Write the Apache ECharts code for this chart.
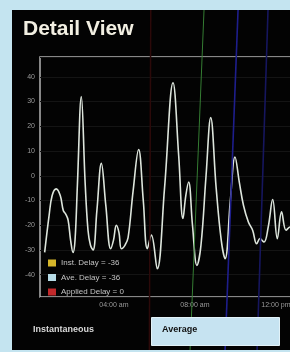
<!DOCTYPE html>
<html>
<head>
<meta charset="utf-8">
<script src="https://cdn.jsdelivr.net/npm/echarts@6/dist/echarts.min.js"></script>
<style>
  html, body { margin: 0; padding: 0; background: #c4e4f0; }
  #panel { position: absolute; left: 12px; top: 10px; width: 278px; height: 340px; background: #030303; }
  #chart { position: absolute; left: 0; top: 0; width: 290px; height: 352px; }
</style>
</head>
<body>
<div id="panel"></div>
<div id="chart"></div>
<script>
// time in hours, delay values
const hours = [0.58, 0.8, 0.95, 1.15, 1.35, 1.5, 1.62, 1.74, 1.86, 1.98, 2.08, 2.2, 2.39, 2.58, 2.72, 2.84, 2.97,
  3.16, 3.38, 3.6, 3.84, 3.98, 4.12, 4.25, 4.37, 4.55, 4.7, 4.95, 5.22, 5.45, 5.65, 5.85, 6.14, 6.5, 6.92,
  7.2, 7.41, 7.55, 7.69, 7.88, 8.1, 8.3, 8.55, 8.78, 9.05, 9.3, 9.49, 9.75, 9.98, 10.2, 10.4, 10.64, 10.85,
  11.05, 11.21, 11.41, 11.62, 11.84, 12.07, 12.28, 12.5, 12.7, 12.95]
const delay = [-31, -16, -8, -5.3, -8, -14, -15.5, -18, -26, -31, -26, -3, 32, -3, -22, -28, -30,
  -14, 5, -12, -29.5, -26, -20, -23, -29.5, -28, -25, -6, 10.6, -10, -29.5, -24, -37.6, -5, 37.6,
  8, -17.3, -8, -2.5, -20, -36.2, -28, 0, 23.5, -5, -26, -33.5, -10, 7.6, -3, -12, -18.7, -22,
  -27.5, -25.4, -26.8, -20.7, -9.6, -25.4, -14.6, -22, -20.7, -24]

const yTicks = [-40, -30, -20, -10, 0, 10, 20, 30, 40]
const xTicks = [4, 8, 12]
const xTickLabels = ['04:00 am', '08:00 am', '12:00 pm']
const legendNames = ['Inst. Delay = -36', 'Ave. Delay = -36', 'Applied Delay = 0']

// cursor lines (slanted in the photo): hour at top and bottom of panel
const cursorTop = [8.45, 10.13, 11.61, 5.82]
const cursorBottom = [7.76, 9.49, 11.07, 5.75]

const chart = echarts.init(document.getElementById('chart'))

const cursorColors = ['#357d33', '#1e1e8c', '#16165e', '#2c0909']
const cursorWidths = [1, 1.6, 1.6, 1.5]
const xMax = 0.35 + 300 / 20.25

chart.setOption({
  animation: false,
  grid: [
    { left: 40, top: 57, width: 300, height: 240, outerBoundsMode: 'none', show: true, borderColor: '#b4b4b4', borderWidth: 1.5 },
    { left: 40, top: 10, width: 300, height: 340, outerBoundsMode: 'none' }
  ],
  xAxis: [
    {
      type: 'value', gridIndex: 0, min: 0.35, max: xMax,
      axisLine: { show: false }, axisTick: { show: false }, splitLine: { show: false },
      axisLabel: {
        customValues: xTicks, color: '#9a9a9a', fontSize: 7, margin: 5,
        fontFamily: 'Liberation Sans',
        formatter: v => xTickLabels[xTicks.indexOf(v)] || ''
      }
    },
    { type: 'value', gridIndex: 1, min: 0.35, max: xMax, show: false }
  ],
  yAxis: [
    {
      type: 'value', gridIndex: 0, min: -49, max: 48, splitNumber: 10,
      axisLine: { show: false }, axisTick: { show: false },
      splitLine: { show: true, lineStyle: { color: '#141414', width: 1 } },
      axisLabel: {
        customValues: yTicks, color: '#9a9a9a', fontSize: 7, margin: 5,
        fontFamily: 'Liberation Sans'
      }
    },
    { type: 'value', gridIndex: 1, min: 0, max: 1, show: false }
  ],
  legend: {
    orient: 'vertical', left: 43, top: 254, itemWidth: 8, itemHeight: 7, itemGap: 6.5,
    icon: 'rect', data: legendNames,
    textStyle: { color: '#c4c4c4', fontSize: 8, fontFamily: 'Liberation Sans' },
    selectedMode: false
  },
  series: [
    {
      type: 'line', xAxisIndex: 1, yAxisIndex: 1, data: [], silent: true, z: 1,
      markLine: {
        symbol: 'none', silent: true, label: { show: false },
        data: cursorTop.map((t, i) => [
          { coord: [t, 1], lineStyle: { color: cursorColors[i], width: cursorWidths[i], type: 'solid' } },
          { coord: [cursorBottom[i], 0] }
        ])
      }
    },
    { name: legendNames[0], type: 'line', data: [], itemStyle: { color: '#d6b62a' } },
    {
      name: legendNames[1], type: 'line', z: 3,
      data: hours.map((h, i) => [h, delay[i]]),
      smooth: 0.4, showSymbol: false,
      itemStyle: { color: '#b6dbe6' },
      lineStyle: { color: '#dde5dc', width: 1.6 }
    },
    { name: legendNames[2], type: 'line', data: [], itemStyle: { color: '#c2292b' } }
  ],
  graphic: [
    {
      type: 'text', left: 23, top: 19, z: 100,
      style: { text: 'Detail View', fill: '#f2efe2', font: 'bold 21px "Liberation Sans"' }
    },
    {
      type: 'text', left: 33, top: 325, z: 100,
      style: { text: 'Instantaneous', fill: '#d8d8d8', font: 'bold 9px "Liberation Sans"' }
    },
    {
      type: 'rect', left: 151, top: 317, z: 100,
      shape: { width: 128, height: 28 },
      style: { fill: '#c6e3f1', stroke: '#e2f2f8', lineWidth: 1 }
    },
    {
      type: 'text', left: 162, top: 325, z: 101,
      style: { text: 'Average', fill: '#111', font: 'bold 9px "Liberation Sans"' }
    }
  ]
})
</script>
</body>
</html>
